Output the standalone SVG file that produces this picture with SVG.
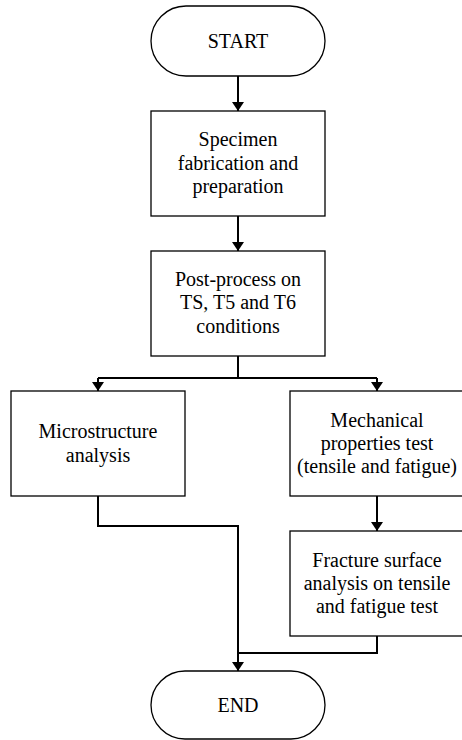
<svg xmlns="http://www.w3.org/2000/svg" width="462" height="740" viewBox="0 0 462 740">
<style>
.box{fill:#fff;stroke:#000;stroke-width:1.3}
.lbl{font-family:"Liberation Serif","Times New Roman",serif;font-size:20px;fill:#000;text-anchor:middle}
.conn{fill:none;stroke:#000;stroke-width:2}
</style>
<defs>
<marker id="arr" markerUnits="userSpaceOnUse" markerWidth="9" markerHeight="12" viewBox="0 0 9 12" refX="9" refY="6" orient="auto">
<path d="M0 0 L9 6 L0 12 z" fill="#000"/>
</marker>
</defs>
<rect width="462" height="740" fill="#fff"/>
<g id="connectors">
<path class="conn" d="M238 76 V111" marker-end="url(#arr)"/>
<path class="conn" d="M238 216 V251" marker-end="url(#arr)"/>
<path class="conn" d="M238 356 V378 M98 378 H377"/>
<path class="conn" d="M98 378 V391" marker-end="url(#arr)"/>
<path class="conn" d="M377 378 V391" marker-end="url(#arr)"/>
<path class="conn" d="M377 496 V531" marker-end="url(#arr)"/>
<path class="conn" d="M98 496 V526 H238 V671" marker-end="url(#arr)"/>
<path class="conn" d="M377 636 V653 H238"/>
</g>
<g id="start">
<rect class="box" x="151" y="6" width="174" height="70" rx="35" ry="35"/>
<text class="lbl" x="238" y="48">START</text>
</g>
<g id="specimen">
<rect class="box" x="151" y="111" width="174" height="105"/>
<text class="lbl" x="238" y="146">Specimen</text>
<text class="lbl" x="238" y="170">fabrication and</text>
<text class="lbl" x="238" y="193">preparation</text>
</g>
<g id="postprocess">
<rect class="box" x="151" y="251" width="174" height="105"/>
<text class="lbl" x="238" y="286">Post-process on</text>
<text class="lbl" x="238" y="309">TS, T5 and T6</text>
<text class="lbl" x="238" y="333">conditions</text>
</g>
<g id="microstructure">
<rect class="box" x="11" y="391" width="174" height="105"/>
<text class="lbl" x="98" y="438">Microstructure</text>
<text class="lbl" x="98" y="462">analysis</text>
</g>
<g id="mechanical">
<rect class="box" x="290" y="391" width="174" height="105"/>
<text class="lbl" x="377" y="427">Mechanical</text>
<text class="lbl" x="377" y="450">properties test</text>
<text class="lbl" x="377" y="473">(tensile and fatigue)</text>
</g>
<g id="fracture">
<rect class="box" x="290" y="531" width="174" height="105"/>
<text class="lbl" x="377" y="567">Fracture surface</text>
<text class="lbl" x="377" y="590">analysis on tensile</text>
<text class="lbl" x="377" y="613">and fatigue test</text>
</g>
<g id="end">
<rect class="box" x="151" y="671" width="174" height="68" rx="34" ry="34"/>
<text class="lbl" x="238" y="712">END</text>
</g>
</svg>
